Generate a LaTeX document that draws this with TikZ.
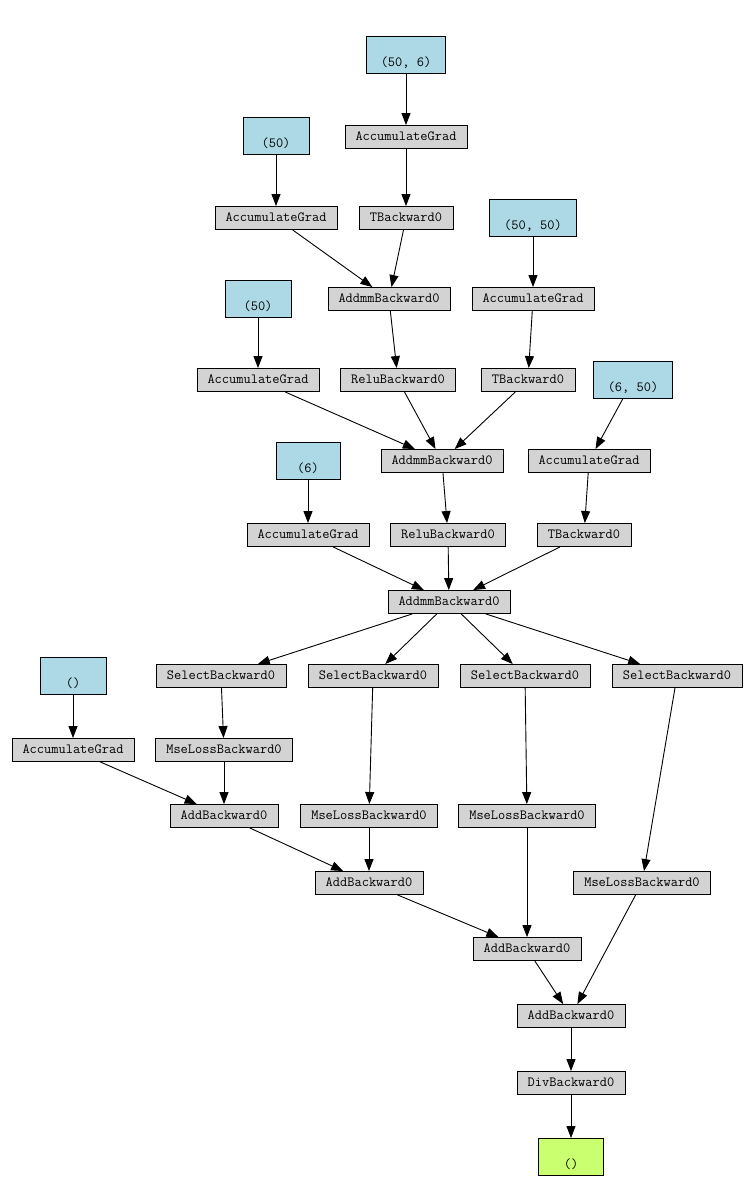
\documentclass[tikz,border=0pt]{standalone}
\usepackage{fontspec}
\usetikzlibrary{arrows.meta}
\definecolor{gbox}{HTML}{D3D3D3}
\definecolor{bbox}{HTML}{ADD8E6}
\definecolor{lbox}{HTML}{CAFF70}
\tikzset{
  op/.style={draw=black, line width=0.9pt, fill=gbox, inner sep=0pt, minimum height=23pt,
    font=\ttfamily\fontsize{14}{16}\selectfont, text height=0.61em, text depth=0pt},
  param/.style={draw=black, line width=0.9pt, fill=bbox, inner sep=0pt, minimum height=37pt,
    font=\ttfamily\fontsize{14}{16}\selectfont, text height=0.61em, text depth=0pt},
  outp/.style={param, fill=lbox},
  edge/.style={line width=0.9pt, -{Triangle[length=12pt,width=9pt]}},
}
\newcommand{\lo}[1]{\raisebox{-8pt}{#1}}
\begin{document}
\begin{tikzpicture}[x=1pt,y=-1pt]
\useasboundingbox (0,0) rectangle (753,1201);
% parameters
\node[param, minimum width=79pt] (p1) at (406,55) {\lo{(50, 6)}};
\node[param, minimum width=66pt] (p2) at (276,136) {\lo{(50)}};
\node[param, minimum width=87pt] (p3) at (533,218) {\lo{(50, 50)}};
\node[param, minimum width=66pt] (p4) at (258,299) {\lo{(50)}};
\node[param, minimum width=79pt] (p5) at (633,380) {\lo{(6, 50)}};
\node[param, minimum width=64pt] (p6) at (308,461) {\lo{(6)}};
\node[param, minimum width=66pt] (p7) at (73,676) {\lo{()}};
\node[outp, minimum width=65pt] (out) at (571,1157) {\lo{()}};
% ops
\node[op, minimum width=122pt] (ag1) at (406,137) {AccumulateGrad};
\node[op, minimum width=122pt] (ag2) at (276,218) {AccumulateGrad};
\node[op, minimum width=94pt] (tb1) at (406,218) {TBackward0};
\node[op, minimum width=122pt] (mm1) at (389,299) {AddmmBackward0};
\node[op, minimum width=122pt] (ag3) at (533,299) {AccumulateGrad};
\node[op, minimum width=122pt] (ag4) at (258,380) {AccumulateGrad};
\node[op, minimum width=115pt] (re1) at (398,380) {ReluBackward0};
\node[op, minimum width=94pt] (tb2) at (528,380) {TBackward0};
\node[op, minimum width=122pt] (mm2) at (442,461) {AddmmBackward0};
\node[op, minimum width=122pt] (ag5) at (589,461) {AccumulateGrad};
\node[op, minimum width=122pt] (ag6) at (308,535) {AccumulateGrad};
\node[op, minimum width=115pt] (re2) at (448,535) {ReluBackward0};
\node[op, minimum width=94pt] (tb3) at (584,535) {TBackward0};
\node[op, minimum width=122pt] (mm3) at (449,602) {AddmmBackward0};
\node[op, minimum width=130pt] (s1) at (221,676) {SelectBackward0};
\node[op, minimum width=130pt] (s2) at (373,676) {SelectBackward0};
\node[op, minimum width=130pt] (s3) at (525,676) {SelectBackward0};
\node[op, minimum width=130pt] (s4) at (677,676) {SelectBackward0};
\node[op, minimum width=122pt] (ag7) at (73,750) {AccumulateGrad};
\node[op, minimum width=137pt] (ms1) at (224,750) {MseLossBackward0};
\node[op, minimum width=108pt] (ad1) at (224,816) {AddBackward0};
\node[op, minimum width=137pt] (ms2) at (369,816) {MseLossBackward0};
\node[op, minimum width=108pt] (ad2) at (369,883) {AddBackward0};
\node[op, minimum width=137pt] (ms3) at (527,816) {MseLossBackward0};
\node[op, minimum width=137pt] (ms4) at (642,883) {MseLossBackward0};
\node[op, minimum width=108pt] (ad3) at (527,949) {AddBackward0};
\node[op, minimum width=108pt] (ad4) at (571,1016) {AddBackward0};
\node[op, minimum width=108pt] (dv) at (571,1083) {DivBackward0};
% edges
\draw[edge] (p1) -- (ag1);
\draw[edge] (ag1) -- (tb1);
\draw[edge] (p2) -- (ag2);
\draw[edge] (ag2) -- (mm1);
\draw[edge] (tb1) -- (mm1);
\draw[edge] (p3) -- (ag3);
\draw[edge] (ag3) -- (tb2);
\draw[edge] (mm1) -- (re1);
\draw[edge] (p4) -- (ag4);
\draw[edge] (ag4) -- (mm2);
\draw[edge] (re1) -- (mm2);
\draw[edge] (tb2) -- (mm2);
\draw[edge] (p5) -- (ag5);
\draw[edge] (ag5) -- (tb3);
\draw[edge] (mm2) -- (re2);
\draw[edge] (p6) -- (ag6);
\draw[edge] (ag6) -- (mm3);
\draw[edge] (re2) -- (mm3);
\draw[edge] (tb3) -- (mm3);
\draw[edge] (mm3) -- (s1);
\draw[edge] (mm3) -- (s2);
\draw[edge] (mm3) -- (s3);
\draw[edge] (mm3) -- (s4);
\draw[edge] (s1) -- (ms1);
\draw[edge] (s2) -- (ms2);
\draw[edge] (s3) -- (ms3);
\draw[edge] (s4) -- (ms4);
\draw[edge] (p7) -- (ag7);
\draw[edge] (ag7) -- (ad1);
\draw[edge] (ms1) -- (ad1);
\draw[edge] (ad1) -- (ad2);
\draw[edge] (ms2) -- (ad2);
\draw[edge] (ad2) -- (ad3);
\draw[edge] (ms3) -- (ad3);
\draw[edge] (ad3) -- (ad4);
\draw[edge] (ms4) -- (ad4);
\draw[edge] (ad4) -- (dv);
\draw[edge] (dv) -- (out);
\end{tikzpicture}
\end{document}
